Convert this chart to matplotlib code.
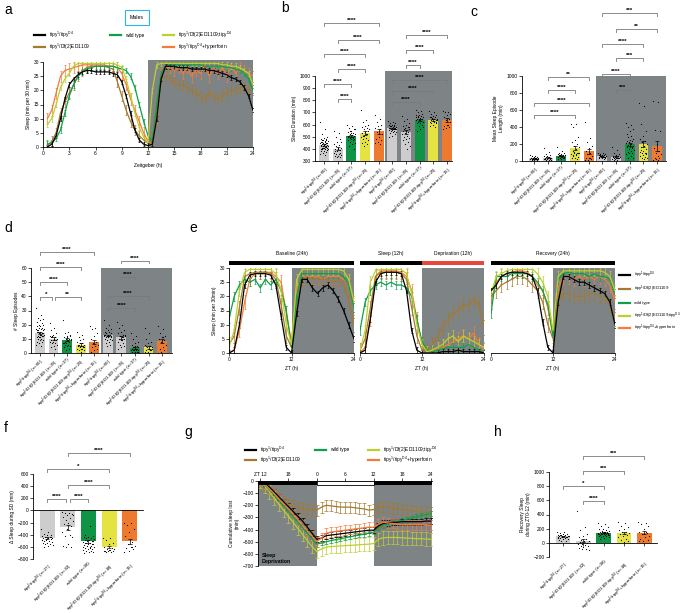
import numpy as np
import matplotlib
matplotlib.use('Agg')
import matplotlib.pyplot as plt
from matplotlib.lines import Line2D
from matplotlib.patches import Rectangle
import matplotlib.transforms as mtrans

plt.rcParams['font.family'] = ['Liberation Sans', 'DejaVu Sans']
plt.rcParams['mathtext.fontset'] = 'custom'
plt.rcParams['mathtext.rm'] = 'Liberation Sans'
plt.rcParams['mathtext.it'] = 'Liberation Sans:italic'
plt.rcParams['mathtext.bf'] = 'Liberation Sans:bold'
plt.rcParams['axes.linewidth'] = 0.6

# colours
BLACK, BROWN, GREEN, LIME, ORANGE = '#000000', '#A47A2E', '#0E9F4B', '#BCD02F', '#F47B3B'
LINE_COLORS = [BLACK, BROWN, GREEN, LIME, ORANGE]
BAR_COLORS = ['#CDCDCD', '#CDCDCD', '#0F9446', '#E4E342', '#EE7A30'] * 2
SHADE = '#7E8386'

# genotype labels
GENO = [r'tipy$^{1}$/tipy$^{\mathrm{D4}}$', r'tipy$^{1}$/Df(2)ED1109', 'wild type',
        r'tipy$^{1}$/Df(2)ED1109;tipy$^{\mathrm{D4}}$', r'tipy$^{1}$/tipy$^{\mathrm{D4}}$+hyperforin']
N_BCD = [60, 25, 37, 25, 15]
N_FH = [27, 22, 38, 18, 15]

# ---- panel a: sleep per 30 min (ZT 0.5 .. 24)
a_black = [0, 1, 4, 10, 17, 22, 24, 25.5, 26.5, 27, 27, 26.5,
           26.5, 26.5, 26.5, 26, 25.5, 23, 18, 12, 6, 2.5, 1, 0.5,
           1, 10, 24, 28.5, 28.5, 28.5, 28, 28, 28, 27.5, 27.5, 27.5,
           27.5, 27, 27, 26.5, 26, 25.5, 24.5, 24, 23, 21, 18, 13]
a_brown = [0.5, 2, 5, 12, 16, 19, 22, 25, 27, 28, 28.5, 28.5,
           28.5, 28.5, 28, 27.5, 23, 18, 13, 9, 6, 4, 2.5, 1.5,
           3, 15, 24, 25, 24, 23, 22, 22, 21, 20, 19, 18,
           17, 19, 18, 17, 18, 19, 20, 20, 21, 21, 20, 20]
a_green = [1, 1.5, 3, 6, 12, 18, 22, 25, 26.5, 27.5, 28, 28.5,
           28.5, 28.5, 28.5, 28.5, 28, 27.5, 27, 25, 21, 15, 9, 4,
           2, 15, 26, 28.5, 29, 29, 29, 29, 29, 29, 29, 29,
           28.5, 28.5, 28.5, 28.5, 28.5, 28, 28, 27.5, 27, 26, 24, 20]
a_lime = [8, 10, 15, 21, 24, 26, 28.5, 29.5, 29.5, 29.5, 29.5, 29.5,
          29.5, 29.5, 29.5, 29.5, 29, 28, 24, 18, 12, 7, 3.5, 1.5,
          20, 29, 29.5, 29.5, 29.5, 29.5, 29.5, 29.5, 29.5, 29.5, 29.5, 29.5,
          29.5, 29.5, 29.5, 29.5, 29, 29, 28.5, 28.5, 28, 27, 26, 22]
a_orange = [10, 13, 19, 25, 27, 27.5, 28, 28.5, 29, 29, 29, 29,
            29, 29, 28.5, 28.5, 28, 26, 22, 17, 13, 9, 5, 2,
            1, 10, 26, 28, 28, 27, 28, 26, 28, 25, 27, 26,
            29, 25, 28, 26, 28, 25, 29, 26, 28, 27, 26, 25]
a_err = [0.8, 1.8, 1.0, 1.0, 2.0]

# ---- panel e: hourly sleep, baseline / deprivation / recovery (ZT 0 .. 24)
e_base = {
    BLACK: [0, 1, 10, 24, 27.5, 28, 28, 28, 27.5, 24, 13, 2, 0, 14, 26, 26, 23, 21, 23, 24, 22, 19, 15, 10, 5],
    BROWN: [3, 6, 16, 27, 28, 28.5, 28.5, 28.5, 28, 26, 17, 6, 2, 20, 26, 27, 26, 26, 26, 26, 25, 26, 24, 19, 10],
    GREEN: [12, 20, 24, 26, 25, 26, 23, 26, 24, 26, 22, 15, 2, 20, 28, 28, 28, 28, 28, 28, 28, 28, 27, 24, 16],
    LIME: [2, 8, 22, 28.5, 29.5, 29.5, 29.5, 29.5, 29.5, 28, 22, 10, 3, 26, 29.5, 29.5, 29.5, 29.5, 29.5, 29.5, 29.5, 29.5, 29, 26, 18],
    ORANGE: [0, 1, 8, 18, 26, 28, 28.5, 28.5, 28.5, 27, 25, 14, 4, 22, 27, 27, 27, 27, 26, 27, 27, 27, 26, 24, 16],
}
e_sd = {
    BLACK: [0, 1, 12, 25, 28, 28.5, 28.5, 28.5, 28, 22, 8, 1, 0, 0, 0, 0, 0.5, 0.5, 0.5, 1, 0.5, 0.5, 0.5, 0.5, 0],
    BROWN: [1, 5, 16, 27, 28.5, 28.5, 28.5, 28.5, 28, 26, 16, 6, 1, 1, 3, 6, 9, 12, 14, 15, 17, 17, 19, 17, 9],
    GREEN: [8, 18, 22, 24, 25, 24, 25, 24, 24, 23, 20, 12, 4, 1, 0.5, 1, 1.5, 2, 2, 2, 2, 3, 2, 1, 0],
    LIME: [1, 8, 25, 29, 29.5, 29.5, 29.5, 29.5, 29.5, 28, 21, 10, 3, 0.5, 1, 2, 3, 5, 6, 4, 6, 5, 4, 3, 2],
    ORANGE: [0, 2, 12, 27, 29, 29, 29, 29, 28.5, 27, 22, 12, 3, 0, 1, 1, 2, 3, 4, 5, 6, 5, 7, 3, 1],
}
e_rec = {
    BLACK: [22, 24, 27, 28, 28.5, 28.5, 28.5, 28, 27, 22, 11, 2, 0, 18, 27, 27, 26, 25, 25, 24, 23, 22, 21, 18, 10],
    BROWN: [20, 22, 24, 25, 26, 27, 27, 26, 24, 22, 18, 10, 5, 18, 21, 21, 20, 20, 20, 21, 21, 20, 20, 17, 12],
    GREEN: [14, 27, 27, 27, 28, 28, 28, 28, 27, 25, 22, 17, 6, 26, 28, 28.5, 28, 28, 28, 27, 28, 27, 27, 26, 21],
    LIME: [21, 27, 28, 29, 29.5, 29.5, 29.5, 29.5, 29.5, 28, 25, 20, 8, 27, 29, 29, 29, 29, 29, 29, 29, 29, 28.5, 27, 22],
    ORANGE: [18, 25, 27, 28, 28.5, 29, 29, 28.5, 27, 24, 22, 16, 6, 23, 27, 27, 26, 27, 26, 27, 26, 27, 26, 24, 18],
}
e_err = {BLACK: 1.0, BROWN: 2.5, GREEN: 1.5, LIME: 2.0, ORANGE: 2.5}

# ---- panel g: cumulative sleep lost (hours from ZT12 of deprivation night: -12 .. 24)
g_black = [0, -15, -50, -90, -130, -170, -210, -250, -290, -330, -380, -430, -480,
           -470, -450, -445, -440, -435, -430, -425, -420, -415, -410, -405, -405,
           -370, -350, -345, -340, -340, -335, -335, -335, -335, -335, -330, -330]
g_brown = [0, -20, -60, -100, -140, -170, -190, -205, -215, -225, -235, -240, -240,
           -215, -200, -205, -210, -215, -215, -215, -220, -225, -230, -240, -235,
           -215, -210, -215, -225, -230, -235, -240, -245, -250, -255, -255, -260]
g_green = [0, -30, -70, -115, -160, -205, -250, -295, -340, -385, -430, -475, -520,
           -510, -500, -490, -482, -475, -468, -460, -452, -445, -438, -430, -420,
           -385, -365, -355, -345, -335, -325, -315, -305, -295, -285, -278, -270]
g_lime = [0, -40, -90, -140, -190, -240, -290, -340, -390, -440, -490, -540, -580,
          -560, -545, -540, -538, -535, -532, -530, -528, -525, -522, -520, -515,
          -480, -468, -465, -465, -465, -468, -470, -472, -475, -475, -478, -480]
g_orange = [0, -25, -65, -105, -150, -190, -230, -275, -320, -365, -410, -455, -500,
            -470, -430, -420, -415, -410, -405, -400, -395, -390, -385, -380, -380,
            -355, -340, -345, -350, -355, -360, -360, -360, -360, -360, -360, -365]
g_err = [25, 45, 20, 55, 40]

# ---- bar panels: means, sem, individual flies
b_mean = [430, 400, 505, 530, 545, 570, 540, 640, 640, 640]
b_sem = [8, 12, 10, 15, 20, 5, 15, 8, 8, 15]
b_dots = [
    [620, 560, 520, 500, 490, 480, 475, 470, 465, 460, 455, 450, 450, 445, 440, 440, 435, 430, 430, 425, 420, 420,
     415, 410, 410, 405, 400, 400, 395, 390, 385, 380, 375, 370, 360, 350, 455, 445, 435, 425, 415, 405, 395, 465, 470, 480],
    [545, 530, 500, 480, 460, 440, 430, 420, 410, 400, 395, 390, 380, 370, 360, 355, 350, 345, 340, 335, 330, 460, 410, 385, 365],
    [600, 590, 575, 560, 550, 540, 530, 525, 520, 515, 510, 505, 500, 500, 495, 490, 485, 480, 475, 470, 460, 450, 440,
     420, 400, 530, 510, 490, 545, 565],
    [720, 640, 620, 600, 590, 580, 570, 560, 550, 540, 530, 520, 510, 500, 490, 480, 470, 460, 450, 440, 425, 560, 520, 505, 600],
    [680, 650, 620, 600, 590, 570, 560, 540, 520, 500, 480, 470, 460, 450, 440],
    [630, 620, 615, 610, 600, 595, 590, 585, 580, 578, 575, 572, 570, 568, 565, 562, 560, 558, 555, 550, 545, 540, 535,
     530, 520, 510, 500, 575, 585, 565, 560, 590, 600],
    [670, 650, 630, 610, 600, 590, 580, 570, 560, 550, 545, 540, 530, 520, 510, 500, 490, 480, 470, 460, 440, 420, 400, 560, 580],
    [720, 710, 700, 690, 680, 675, 670, 665, 660, 655, 650, 645, 640, 635, 630, 625, 620, 615, 610, 600, 590, 580, 560,
     550, 650, 640, 660, 630, 670, 620],
    [710, 700, 690, 680, 670, 665, 660, 655, 650, 645, 640, 635, 630, 625, 620, 615, 610, 600, 590, 580, 650, 640, 630, 660, 620],
    [710, 705, 700, 690, 680, 660, 650, 640, 620, 600, 590, 580, 570, 560, 600],
]

c_mean = [30, 40, 60, 150, 115, 55, 50, 195, 200, 180]
c_sem = [3, 8, 6, 25, 30, 4, 8, 15, 35, 60]
c_dots = [
    [70, 60, 55, 50, 45, 40, 38, 35, 32, 30, 28, 25, 22, 20, 18, 15, 12, 10, 30, 25, 35, 20, 40, 28, 22],
    [150, 110, 80, 70, 60, 55, 50, 45, 40, 35, 30, 25, 20, 18, 15, 12, 10, 30, 25, 35],
    [160, 120, 100, 90, 85, 80, 75, 70, 65, 60, 55, 50, 48, 45, 40, 35, 30, 25, 20, 60, 55, 70, 45, 65, 50],
    [440, 430, 400, 280, 250, 220, 200, 180, 160, 140, 120, 100, 90, 80, 70, 60, 50, 40, 30, 20, 110, 95, 85, 75, 100],
    [460, 270, 220, 180, 150, 120, 100, 80, 60, 40, 30, 20, 15, 10, 30],
    [95, 90, 85, 80, 75, 70, 65, 62, 60, 58, 55, 52, 50, 48, 45, 42, 40, 35, 30, 25, 55, 60, 50, 65, 45],
    [170, 130, 100, 80, 70, 60, 55, 50, 45, 40, 35, 30, 25, 20, 15, 10, 40, 35, 45, 30],
    [450, 420, 400, 380, 350, 320, 300, 280, 260, 250, 240, 230, 220, 210, 200, 190, 180, 170, 160, 150, 140, 130,
     120, 110, 100, 90, 80, 60, 40, 30, 200, 180, 160, 220],
    [680, 650, 430, 350, 300, 260, 240, 220, 200, 180, 160, 140, 120, 110, 100, 90, 80, 70, 60, 50, 40, 30, 20, 130, 100],
    [710, 700, 360, 350, 200, 150, 120, 100, 80, 60, 40, 30, 20, 15, 10],
]

d_mean = [14, 10, 9.5, 6, 8, 12.5, 11, 3.5, 4, 8.5]
d_sem = [0.7, 1, 0.8, 0.8, 1.5, 0.5, 1, 0.6, 1, 1.5]
d_dots = [
    [32, 27, 25, 24, 23, 22, 21, 20, 20, 19, 19, 18, 18, 17, 17, 16, 16, 15, 15, 14, 14, 13, 13, 12, 12, 11, 11, 10,
     10, 9, 9, 8, 8, 7, 6, 5, 15, 14, 13, 16, 12, 11, 17],
    [21, 18, 16, 14, 13, 12, 11, 11, 10, 10, 9, 9, 8, 8, 7, 7, 6, 5, 4, 3, 12, 10, 9, 11],
    [23, 15, 14, 13, 12, 11, 10, 10, 9, 9, 8, 8, 7, 7, 6, 6, 5, 5, 4, 3, 2, 10, 9, 8, 12, 11, 7],
    [15, 13, 11, 10, 9, 8, 7, 6, 6, 5, 5, 4, 4, 3, 3, 2, 2, 1, 6, 5, 7, 4, 3],
    [19, 18, 17, 14, 12, 10, 8, 7, 6, 5, 4, 3, 2, 1, 5],
    [23, 20, 18, 17, 16, 15, 15, 14, 14, 13, 13, 13, 12, 12, 12, 11, 11, 11, 10, 10, 9, 9, 8, 7, 6, 5, 13, 12, 14, 12, 11, 13],
    [22, 20, 18, 16, 15, 14, 13, 12, 12, 11, 10, 10, 9, 8, 7, 6, 5, 4, 3, 11, 12, 13, 9],
    [14, 12, 10, 8, 7, 6, 5, 4, 4, 3, 3, 3, 2, 2, 2, 2, 1, 1, 1, 1, 0, 0, 3, 4, 2, 5, 3],
    [18, 14, 10, 8, 7, 6, 5, 4, 3, 3, 2, 2, 1, 1, 0, 0, 4, 3, 5, 2],
    [19, 17, 14, 12, 11, 10, 9, 8, 6, 4, 3, 2, 1, 0, 11],
]

f_mean = [-460, -280, -510, -600, -510]
f_sem = [15, 45, 20, 20, 40]
f_dots = [
    [-300, -350, -380, -400, -410, -420, -430, -440, -450, -455, -460, -470, -480, -490, -500, -510, -520, -530, -540,
     -550, -560, -575, -590, -600, -445, -465, -485],
    [-30, -40, -50, -60, -80, -100, -120, -150, -170, -200, -230, -260, -300, -350, -400, -420, -440, -560, -580, -600, -610, -80],
    [10, -250, -400, -420, -430, -440, -450, -460, -470, -480, -490, -500, -510, -520, -530, -540, -550, -560, -570,
     -580, -590, -600, -610, -620, -630, -640, -650, -660, -670, -680, -690, -700, -560, -580, -600, -620, -540, -500],
    [-450, -460, -480, -530, -560, -600, -620, -630, -640, -650, -660, -660, -670, -670, -680, -680, -640, -650],
    [-200, -210, -240, -300, -360, -420, -520, -560, -590, -600, -620, -640, -660, -680, -600],
]

h_mean = [90, 30, 140, 140, 145]
h_sem = [8, 25, 8, 20, 25]
h_dots = [
    [160, 150, 140, 130, 120, 115, 110, 105, 100, 95, 90, 85, 80, 75, 70, 65, 60, 50, 40, 30, 20, 100, 90, 110, 80, 95, 85],
    [450, 230, 180, 120, 100, 80, 60, 40, 30, 20, 10, 0, -10, -20, -30, -40, -50, -60, -70, -80, -90, -100],
    [280, 260, 240, 220, 200, 190, 180, 170, 165, 160, 155, 150, 145, 140, 135, 130, 128, 125, 122, 120, 118, 115,
     112, 110, 105, 100, 95, 90, 85, 80, 70, 60, 140, 150, 130, 160, 145, 135],
    [290, 280, 240, 220, 200, 180, 160, 150, 140, 130, 120, 110, 100, 80, 60, 40, 20, 10],
    [290, 280, 270, 240, 200, 160, 140, 120, 100, 80, 60, 40, 30, 20, 150],
]

W, H = 683, 613
fig = plt.figure(figsize=(W / 100, H / 100), dpi=100)
FS = 3.5


def fy(y):
    return 1 - y / H


def px_axes(x0, y0, x1, y1):
    return fig.add_axes([x0 / W, fy(y1), (x1 - x0) / W, (y1 - y0) / H])


def style(ax):
    for s in ('top', 'right'):
        ax.spines[s].set_visible(False)
    ax.tick_params(labelsize=FS, width=0.5, length=2, pad=1)


def bracket(ax, i, j, ypx, stars):
    tr = mtrans.blended_transform_factory(ax.transData, fig.transFigure)
    y = fy(ypx)
    d = 2.5 / H
    ax.plot([i, i, j, j], [y - d, y, y, y - d], transform=tr, color='#7a7a7a', lw=0.6, clip_on=False)
    ax.text((i + j) / 2, y + 0.3 / H, stars, transform=tr, ha='center', va='bottom',
            fontsize=4.5, fontweight='bold', clip_on=False)


def bar_panel(ax, means, sems, dots, colors, width=0.72):
    x = np.arange(len(means))
    ax.bar(x, means, width=width, color=colors, zorder=2)
    for i, vals in enumerate(dots):
        k = np.arange(len(vals))
        off = ((k * 0.618034) % 1 - 0.5) * width * 0.8
        ax.scatter(i + off, vals, s=0.7, color='black', zorder=3, linewidths=0)
    ax.errorbar(x, means, yerr=sems, fmt='none', ecolor='black', elinewidth=0.5,
                capsize=1.3, capthick=0.5, zorder=4)


def shade(ax, x0, x1, ytop=1.0):
    tr = mtrans.blended_transform_factory(ax.transData, ax.transAxes)
    ax.add_patch(Rectangle((x0, 0), x1 - x0, ytop, transform=tr, color=SHADE, zorder=0,
                           clip_on=False, lw=0))


def legend_entry(x, y, color, label, fs=FS):
    fig.add_artist(Line2D([x / W, (x + 11) / W], [fy(y), fy(y)], color=color, lw=1.6))
    fig.text((x + 15) / W, fy(y), label, fontsize=fs, va='center')


def geno_labels(ns):
    return [f'{g} (n={n})' for g, n in zip(GENO * 2, ns * 2)]


def panel_letter(x, y, s):
    fig.text(x / W, fy(y), s, fontsize=10, va='center', ha='left')


def series(ax, t, y, err, color):
    ax.errorbar(t, y, yerr=err, color=color, lw=0.9, elinewidth=0.5, capsize=1, capthick=0.5)


# ================= panel a
ax = px_axes(43, 62, 253, 147)
style(ax)
ax.add_patch(Rectangle((12, 0), 12, 30.6, color=SHADE, zorder=0, clip_on=False, lw=0))
t_a = np.arange(1, 49) * 0.5
a_series = [a_black, a_brown, a_green, a_lime, a_orange]
for idx in [4, 1, 2, 3, 0]:
    series(ax, t_a, a_series[idx], a_err[idx], LINE_COLORS[idx])
ax.set_xlim(0, 24)
ax.set_ylim(0, 30)
ax.set_xticks(np.arange(0, 25, 3))
ax.set_yticks(np.arange(0, 31, 5))
ax.set_xlabel('Zeitgeber (h)', fontsize=FS, labelpad=5)
ax.set_ylabel('Sleep (min per 30 min)', fontsize=FS, labelpad=2)
panel_letter(4, 10, 'a')
fig.text(137 / W, fy(17.5), 'Males', fontsize=3.8, ha='center', va='center',
         bbox=dict(boxstyle='square,pad=0.9', fc='white', ec='#29B6E8', lw=0.8))
legend_entry(34, 35, BLACK, GENO[0])
legend_entry(34, 47, BROWN, GENO[1])
legend_entry(110, 35, GREEN, GENO[2])
legend_entry(163, 35, LIME, GENO[3])
legend_entry(163, 47, ORANGE, GENO[4])

# ================= panel b
ax = px_axes(315, 76, 452, 161)
style(ax)
shade(ax, 4.5, 9.37, 1.06)
bar_panel(ax, b_mean, b_sem, b_dots, BAR_COLORS)
ax.set_xlim(-0.66, 9.37)
ax.set_ylim(300, 1000)
ax.set_yticks(np.arange(300, 1001, 100))
ax.set_xticks(np.arange(10))
ax.set_xticklabels(geno_labels(N_BCD), rotation=45, ha='right', rotation_mode='anchor', fontsize=3.2)
ax.set_ylabel('Sleep Duration (min)', fontsize=FS, labelpad=2)
for i, j, y, s in [(0, 4, 23, '****'), (1, 4, 40, '****'), (0, 3, 54, '****'), (1, 3, 69, '****'),
                   (0, 2, 84, '****'), (1, 2, 99, '****'), (6, 9, 35, '****'), (6, 8, 50, '****'),
                   (6, 7, 65, '****'), (5, 9, 80, '****'), (5, 8, 91, '****'), (5, 7, 102, '****')]:
    bracket(ax, i, j, y, s)
panel_letter(281, 8, 'b')

# ================= panel c
ax = px_axes(522, 76, 666, 161)
style(ax)
shade(ax, 4.5, 9.65, 1.0)
bar_panel(ax, c_mean, c_sem, c_dots, BAR_COLORS)
ax.set_xlim(-0.88, 9.65)
ax.set_ylim(0, 1000)
ax.set_yticks(np.arange(0, 1001, 200))
ax.set_xticks(np.arange(10))
ax.set_xticklabels(geno_labels(N_BCD), rotation=45, ha='right', rotation_mode='anchor', fontsize=3.2)
ax.set_ylabel('Mean Sleep Episode\nLength (min)', fontsize=FS, labelpad=2)
for i, j, y, s in [(1, 4, 77, '**'), (1, 3, 90, '****'), (0, 4, 103, '****'), (0, 3, 115, '****'),
                   (5, 9, 13, '***'), (6, 9, 29, '**'), (5, 8, 44, '****'), (6, 8, 58, '***'),
                   (5, 7, 74, '****'), (6, 7, 90, '***')]:
    bracket(ax, i, j, y, s)
panel_letter(470, 12, 'c')

# ================= panel d
ax = px_axes(31, 268, 172, 353)
style(ax)
shade(ax, 4.5, 9.73, 1.0)
bar_panel(ax, d_mean, d_sem, d_dots, BAR_COLORS)
ax.set_xlim(-0.66, 9.73)
ax.set_ylim(0, 60)
ax.set_yticks(np.arange(0, 61, 10))
ax.set_xticks(np.arange(10))
ax.set_xticklabels(geno_labels(N_BCD), rotation=45, ha='right', rotation_mode='anchor', fontsize=3.2)
ax.set_ylabel('# Sleep Episodes', fontsize=FS, labelpad=2)
for i, j, y, s in [(0, 4, 252, '****'), (0, 3, 267, '****'), (0, 2, 282, '****'), (0, 0.9, 297, '*'),
                   (1.1, 3, 297, '**'), (6, 8, 261, '****'), (6, 7, 277, '****'), (5, 8, 296, '****'),
                   (5, 7, 308, '****')]:
    bracket(ax, i, j, y, s)
panel_letter(4, 228, 'd')

# ================= panel e
t_e = np.arange(25)
e_boxes = [(229, 268, 354, 353), (360, 268, 484, 353), (491, 268, 615, 353)]
e_data = [e_base, e_sd, e_rec]
e_titles = [[(12, 'Baseline (24h)')], [(6, 'Sleep (12h)'), (18, 'Deprivation (12h)')], [(12, 'Recovery (24h)')]]
e_bars = [[(0, 24, 'black')], [(0, 12, 'black'), (12, 12, '#E8463A')], [(0, 24, 'black')]]
for k, (box, data) in enumerate(zip(e_boxes, e_data)):
    ax = px_axes(*box)
    style(ax)
    shade(ax, 12, 24, 1.0)
    for col in [ORANGE, BROWN, GREEN, LIME, BLACK]:
        series(ax, t_e, data[col], e_err[col], col)
    ax.set_xlim(0, 24)
    ax.set_ylim(0, 30)
    ax.set_xticks([0, 12, 24])
    ax.set_xlabel('ZT (h)', fontsize=FS, labelpad=3)
    tr = mtrans.blended_transform_factory(ax.transData, ax.transAxes)
    for x0, w, c in e_bars[k]:
        ax.add_patch(Rectangle((x0, 1.035), w, 0.05, transform=tr, color=c, clip_on=False, lw=0))
    for xc, s in e_titles[k]:
        ax.text(xc, 1.17, s, transform=tr, ha='center', va='center', fontsize=FS)
    if k == 0:
        ax.set_yticks(np.arange(0, 31, 5))
        ax.set_ylabel('Sleep (min per 30min)', fontsize=FS, labelpad=2)
    else:
        ax.spines['left'].set_visible(False)
        ax.set_yticks([])
panel_letter(189, 228, 'e')
for y, col, lab in zip([275, 289, 303, 316, 328], LINE_COLORS, GENO):
    legend_entry(619, y, col, lab, fs=3.0)

# ================= panel f
ax = px_axes(33, 474, 143, 559)
style(ax)
bar_panel(ax, f_mean, f_sem, f_dots, BAR_COLORS[:5])
ax.set_xlim(-0.68, 4.64)
ax.set_ylim(-800, 600)
ax.set_yticks(np.arange(-800, 601, 200))
ax.spines['bottom'].set_position(('data', 0))
ax.set_xticks(np.arange(5))
ax.tick_params(axis='x', labelbottom=False, length=2)
sec = ax.secondary_xaxis(0.0)
sec.spines['bottom'].set_visible(False)
sec.set_xticks(np.arange(5))
sec.set_xticklabels([f'{g} (n={n})' for g, n in zip(GENO, N_FH)], rotation=45, ha='right',
                    rotation_mode='anchor', fontsize=3.2)
sec.tick_params(length=0, pad=2)
ax.set_ylabel('Δ Sleep during SD (min)', fontsize=FS, labelpad=2)
for i, j, y, s in [(1, 4, 453, '****'), (0, 3, 469, '*'), (1, 3, 485, '****'),
                   (0, 0.9, 499, '****'), (1.1, 2, 499, '****')]:
    bracket(ax, i, j, y, s)
panel_letter(4, 428, 'f')

# ================= panel g
ax = px_axes(258, 481, 432, 566)
ax.spines['right'].set_visible(False)
ax.spines['bottom'].set_visible(False)
ax.tick_params(labelsize=FS, width=0.5, length=2, pad=1)
ax.xaxis.tick_top()
t_g = np.arange(-12, 25)
ax.add_patch(Rectangle((-12.4, -700), 12.4, 700, color=SHADE, lw=0, zorder=0))
ax.add_patch(Rectangle((12, -700), 12.3, 700, color=SHADE, lw=0, zorder=0))
ax.add_patch(Rectangle((-12.4, -33), 12.4, 33, color='black', lw=0, zorder=5))
ax.add_patch(Rectangle((0, -33), 12, 33, fc='white', ec='black', lw=0.6, zorder=5))
ax.add_patch(Rectangle((12, -33), 12.3, 33, color='black', lw=0, zorder=5))
g_series = [g_black, g_brown, g_green, g_lime, g_orange]
for idx in [3, 1, 2, 0, 4]:
    ax.errorbar(t_g, g_series[idx], yerr=g_err[idx], color=LINE_COLORS[idx], lw=0.9,
                elinewidth=0.5, capsize=1.3, capthick=0.5)
ax.set_xlim(-12.4, 24.3)
ax.set_ylim(-700, 0)
ax.set_xticks([-12, -6, 0, 6, 12, 18, 24])
ax.set_xticklabels(['ZT 12', '18', '0', '6', '12', '18', '24'])
ax.set_yticks(np.arange(-700, 1, 100))
ax.set_ylabel('Cumulative sleep lost\n(min)', fontsize=FS, labelpad=2)
ax.text(-11.7, -640, 'Sleep\nDeprivation', fontsize=3.8, fontweight='bold', va='center', ha='left')
panel_letter(184, 432, 'g')
legend_entry(245, 450, BLACK, GENO[0])
legend_entry(245, 460, BROWN, GENO[1])
legend_entry(315, 450, GREEN, GENO[2])
legend_entry(368, 450, LIME, GENO[3])
legend_entry(368, 460, ORANGE, GENO[4])

# ================= panel h
ax = px_axes(549, 472, 657, 557)
style(ax)
bar_panel(ax, h_mean, h_sem, h_dots, BAR_COLORS[:5])
ax.set_xlim(-0.69, 4.63)
ax.set_ylim(-200, 1000)
ax.set_yticks(np.arange(-200, 1001, 200))
ax.spines['bottom'].set_position(('data', 0))
ax.set_xticks(np.arange(5))
ax.tick_params(axis='x', labelbottom=False, length=2)
sec = ax.secondary_xaxis(0.0)
sec.spines['bottom'].set_visible(False)
sec.set_xticks(np.arange(5))
sec.set_xticklabels([f'{g} (n={n})' for g, n in zip(GENO, N_FH)], rotation=45, ha='right',
                    rotation_mode='anchor', fontsize=3.2)
sec.tick_params(length=0, pad=2)
ax.set_ylabel('Recovery Sleep\nduring ZT0-12 (min)', fontsize=FS, labelpad=2)
for i, j, y, s in [(1, 4, 456, '***'), (1, 3, 471, '***'), (0, 2, 486, '*'), (1, 2, 501, '****')]:
    bracket(ax, i, j, y, s)
panel_letter(494, 432, 'h')

fig.savefig('out.png', dpi=100)
